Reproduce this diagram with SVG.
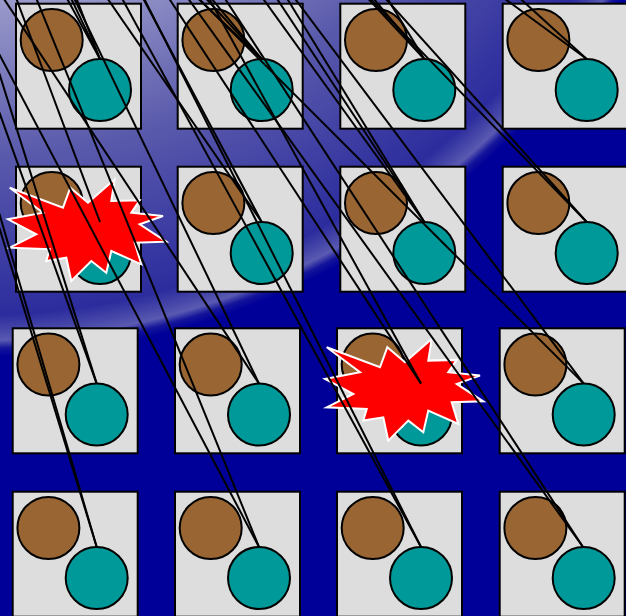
<svg xmlns="http://www.w3.org/2000/svg" width="626" height="616" viewBox="0 0 626 616">
<defs>
<radialGradient id="bg" gradientUnits="userSpaceOnUse" cx="-23" cy="-405" r="800">
<stop offset="0.5" stop-color="#9c9ccc"/>
<stop offset="0.7" stop-color="#5a5aac"/>
<stop offset="0.9" stop-color="#2c2c9e"/>
<stop offset="0.922" stop-color="#4a4aaa"/>
<stop offset="0.932" stop-color="#5a5ab2"/>
<stop offset="0.942" stop-color="#14149a"/>
<stop offset="0.952" stop-color="#000099"/>
<stop offset="1" stop-color="#000099"/>
</radialGradient>
<g id="cell">
<rect x="0" y="0" width="125" height="125" fill="#dddddd" stroke="#000" stroke-width="2"/>
<circle cx="35.7" cy="36.3" r="31" fill="#996633" stroke="#000" stroke-width="2"/>
<circle cx="84" cy="86.3" r="31" fill="#009999" stroke="#000" stroke-width="2"/>
</g>
<polygon id="boom" points="-94.3,-36.3 -41,-16.3 -33.7,-36.3 -16,-21.3 10.7,-44.7 7.3,-23 35.7,-23.7 27.3,-11.3 59,-8 35.7,0.3 62.3,17.7 30.7,18.7 37.3,40.3 7.3,27 2.3,48.7 -12.7,37 -32.7,57 -37.7,33.7 -57.7,37 -54.3,25.3 -94.3,23.7 -67.7,10.3 -96,-4.7 -61,-11.3" fill="#ff0000" stroke="#ffffff" stroke-width="2"/>
</defs>
<style>
.shot{stroke:#000;stroke-width:2;fill:none}
</style>
<rect id="background" x="0" y="0" width="626" height="616" fill="url(#bg)"/>
<g id="r1c1" transform="translate(16,3.7)"><use href="#cell"/></g>
<g id="r1c2" transform="translate(177.7,3.7)"><use href="#cell"/></g>
<g id="r1c3" transform="translate(340.3,3.7)"><use href="#cell"/></g>
<g id="r1c4" transform="translate(502.7,3.7)"><use href="#cell"/></g>
<g id="r2c1" transform="translate(16,166.7)"><use href="#cell"/></g>
<g id="r2c2" transform="translate(177.7,166.7)"><use href="#cell"/></g>
<g id="r2c3" transform="translate(340.3,166.7)"><use href="#cell"/></g>
<g id="r2c4" transform="translate(502.7,166.7)"><use href="#cell"/></g>
<g id="r3c1" transform="translate(12.7,328.3)"><use href="#cell"/></g>
<g id="r3c2" transform="translate(175,328.3)"><use href="#cell"/></g>
<g id="r3c3" transform="translate(337,328.3)"><use href="#cell"/></g>
<g id="r3c4" transform="translate(499.7,328.3)"><use href="#cell"/></g>
<g id="r4c1" transform="translate(12.7,491.7)"><use href="#cell"/></g>
<g id="r4c2" transform="translate(175,491.7)"><use href="#cell"/></g>
<g id="r4c3" transform="translate(337,491.7)"><use href="#cell"/></g>
<g id="r4c4" transform="translate(499.7,491.7)"><use href="#cell"/></g>
<g id="explosion1" transform="translate(104,224)"><use href="#boom"/></g>
<g id="explosion2" transform="translate(421,383.6)"><use href="#boom"/></g>
<g id="shots" class="shot">
<line x1="56.9" y1="-20" x2="100" y2="59"/>
<line x1="62.3" y1="-20" x2="100" y2="59"/>
<line x1="69.2" y1="-20" x2="100" y2="59"/>
<line x1="178.7" y1="-20" x2="261.7" y2="59"/>
<line x1="189" y1="-20" x2="261.7" y2="59"/>
<line x1="196.1" y1="-20" x2="261.7" y2="59"/>
<line x1="350.8" y1="-20" x2="424.3" y2="59"/>
<line x1="357.9" y1="-20" x2="424.3" y2="59"/>
<line x1="376.1" y1="-20" x2="424.3" y2="59"/>
<line x1="479.3" y1="-20" x2="586.7" y2="59"/>
<line x1="499.8" y1="-20" x2="586.7" y2="59"/>
<line x1="9.3" y1="-20" x2="100" y2="222"/>
<line x1="94.7" y1="-20" x2="261.7" y2="222"/>
<line x1="133.4" y1="-20" x2="261.7" y2="222"/>
<line x1="249.6" y1="-20" x2="424.3" y2="222"/>
<line x1="264.6" y1="-20" x2="424.3" y2="222"/>
<line x1="275.7" y1="-20" x2="424.3" y2="222"/>
<line x1="352" y1="-20" x2="586.7" y2="222"/>
<line x1="368.9" y1="-20" x2="586.7" y2="222"/>
<line x1="-48.2" y1="-20" x2="96.7" y2="383.6"/>
<line x1="-30" y1="-20" x2="96.7" y2="383.6"/>
<line x1="-8.6" y1="-20" x2="259" y2="383.6"/>
<line x1="65.3" y1="-20" x2="259" y2="383.6"/>
<line x1="157" y1="-20" x2="421" y2="383.6"/>
<line x1="199" y1="-20" x2="421" y2="383.6"/>
<line x1="180.1" y1="-20" x2="583.7" y2="383.6"/>
<line x1="281" y1="-20" x2="583.7" y2="383.6"/>
<line x1="-76.2" y1="-20" x2="96.7" y2="547"/>
<line x1="-68.9" y1="-20" x2="96.7" y2="547"/>
<line x1="-39.8" y1="-20" x2="259" y2="547"/>
<line x1="28.8" y1="-20" x2="259" y2="547"/>
<line x1="112" y1="-20" x2="421" y2="547"/>
<line x1="134.7" y1="-20" x2="421" y2="547"/>
<line x1="174.8" y1="-20" x2="583" y2="547"/>
<line x1="212.8" y1="-20" x2="583" y2="547"/>
</g>
</svg>
